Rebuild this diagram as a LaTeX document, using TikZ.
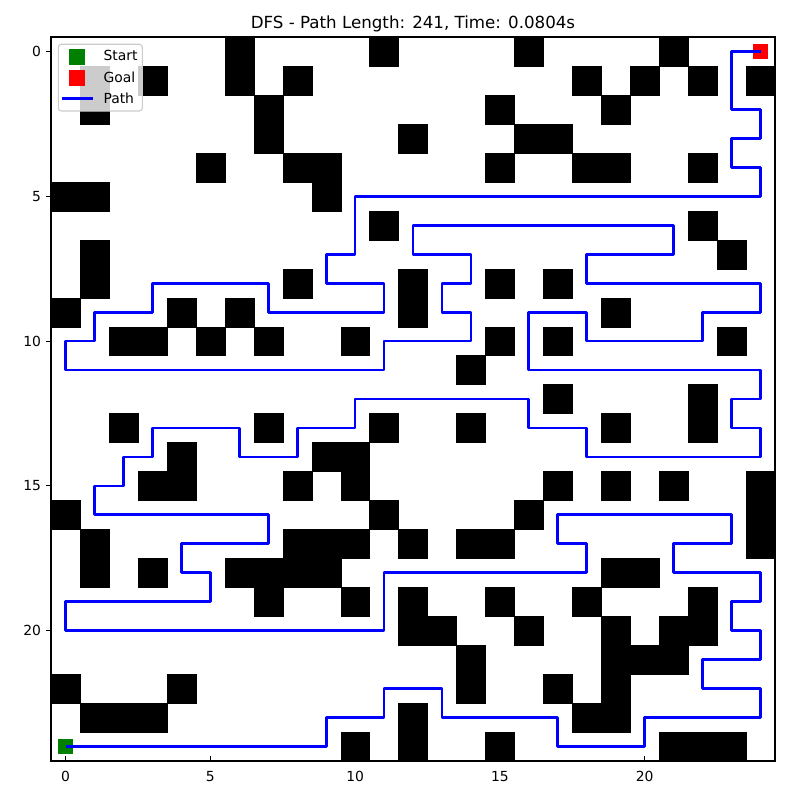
\documentclass[tikz,border=0pt]{standalone}
\usepackage{fontspec}
\setmainfont{DejaVu Sans}
\definecolor{mplgreen}{HTML}{008000}
\definecolor{mplblue}{HTML}{0000FF}
\definecolor{mplred}{HTML}{FF0000}
\definecolor{legedge}{HTML}{CCCCCC}
\tikzset{
  cell/.style={fill=black, draw=black, line width=0.2pt},
  pathline/.style={draw=mplblue, line width=2.78pt, line join=round},
  startmark/.style={fill=mplgreen, inner sep=0pt, minimum size=15.7pt, draw=none},
  goalmark/.style={fill=mplred, inner sep=0pt, minimum size=15.7pt, draw=none},
  ticklabel/.style={inner sep=0pt, font=\fontsize{13.9}{16}\selectfont},
  tickline/.style={line width=1.1pt, draw=black},
  frame/.style={line width=1.1pt, draw=black},
  legbox/.style={fill=white, fill opacity=0.8, draw=legedge, line width=1.1pt, rounded corners=3pt},
  legtext/.style={inner sep=0pt, anchor=base west, font=\fontsize{13.9}{16}\selectfont},
}
\begin{document}
\begin{tikzpicture}[x=1pt,y=-1pt]
\useasboundingbox (0,0) rectangle (800,800);
\fill[white] (0,0) rectangle (800,800);
% title
\node[inner sep=0pt, anchor=base, font=\fontsize{16.67}{20}\selectfont] (title) at (413,29) {DFS - Path Length: 241, Time: 0.0804s};
% grid in data coordinates
\begin{scope}[shift={(65.5pt,-51.5pt)}, x=28.96pt, y=-28.96pt]
\foreach \r/\cols in {0/{6,11,16,21},1/{1,3,6,8,18,20,22,24},2/{1,7,15,19},3/{7,12,16,17},4/{5,8,9,15,18,19,22},5/{0,1,9},6/{11,22},7/{1,23},8/{1,8,12,15,17},9/{0,4,6,12,19},10/{2,3,5,7,10,15,17,23},11/{14},12/{17,22},13/{2,7,11,14,19,22},14/{4,9,10},15/{3,4,8,10,17,19,21,24},16/{0,11,16,24},17/{1,8,9,10,12,14,15,24},18/{1,3,6,7,8,9,19,20},19/{7,10,12,15,18,22},20/{12,13,16,19,21,22},21/{14,19,20,21},22/{0,4,14,17,19},23/{1,2,3,12,18,19},24/{10,12,15,21,22,23}}{
  \foreach \c in \cols {
    \path[cell] (\c-0.5,\r-0.5) rectangle ++(1,1);
  }
}
\node[startmark] (start) at (0,24) {};
\node[goalmark] (goal) at (24,0) {};
\draw[pathline] (start.center) -- (9,24) -- (9,23) -- (11,23) -- (11,22) -- (13,22) -- (13,23) -- (17,23) -- (17,24) -- (20,24) -- (20,23) -- (24,23) -- (24,22) -- (22,22) -- (22,21) -- (24,21) -- (24,20) -- (23,20) -- (23,19) -- (24,19) -- (24,18) -- (21,18) -- (21,17) -- (23,17) -- (23,16) -- (17,16) -- (17,17) -- (18,17) -- (18,18) -- (11,18) -- (11,20) -- (0,20) -- (0,19) -- (5,19) -- (5,18) -- (4,18) -- (4,17) -- (7,17) -- (7,16) -- (1,16) -- (1,15) -- (2,15) -- (2,14) -- (3,14) -- (3,13) -- (6,13) -- (6,14) -- (8,14) -- (8,13) -- (10,13) -- (10,12) -- (16,12) -- (16,13) -- (18,13) -- (18,14) -- (24,14) -- (24,13) -- (23,13) -- (23,12) -- (24,12) -- (24,11) -- (16,11) -- (16,9) -- (18,9) -- (18,10) -- (22,10) -- (22,9) -- (24,9) -- (24,8) -- (18,8) -- (18,7) -- (21,7) -- (21,6) -- (12,6) -- (12,7) -- (14,7) -- (14,8) -- (13,8) -- (13,9) -- (14,9) -- (14,10) -- (11,10) -- (11,11) -- (0,11) -- (0,10) -- (1,10) -- (1,9) -- (3,9) -- (3,8) -- (7,8) -- (7,9) -- (11,9) -- (11,8) -- (9,8) -- (9,7) -- (10,7) -- (10,5) -- (24,5) -- (24,4) -- (23,4) -- (23,3) -- (24,3) -- (24,2) -- (23,2) -- (23,0) -- (goal.center);
% ticks
\foreach \v in {0,5,10,15,20}{
  \coordinate (xt\v) at (\v,24.5);
  \coordinate (yt\v) at (-0.5,\v);
  \draw[tickline] (xt\v) -- ++(0,4.86pt);
  \draw[tickline] (yt\v) -- ++(-4.86pt,0);
  \node[ticklabel, anchor=base] (xl\v) at ([yshift=-20.5pt]xt\v) {\v};
  \node[ticklabel, anchor=east] (yl\v) at ([xshift=-9.8pt]yt\v) {\v};
}
\end{scope}
% frame
\draw[frame] (51,37) rectangle (775,761);
% legend
\path[legbox] (58.3,44.3) rectangle (142.3,111);
\node[fill=mplgreen, inner sep=0pt, minimum size=15.7pt] (legstart) at (77.2,57.2) {};
\node[fill=mplred, inner sep=0pt, minimum size=15.7pt] (leggoal) at (77.2,77.9) {};
\coordinate (legpa) at (61.7,98.3);
\coordinate (legpb) at (92.7,98.3);
\draw[pathline] (legpa) -- (legpb);
\node[legtext] (ltstart) at (103.3,61) {Start};
\node[legtext] (ltgoal) at (103.3,82.3) {Goal};
\node[legtext] (ltpath) at (103.3,103.3) {Path};
\end{tikzpicture}
\end{document}
